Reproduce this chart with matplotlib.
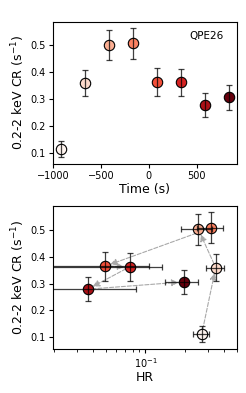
import matplotlib
matplotlib.use('Agg')
import matplotlib.pyplot as plt
import numpy as np

# light curve of QPE26
time = np.array([-918, -668, -418, -168, 82, 332, 582, 832])
rate = np.array([0.114, 0.359, 0.501, 0.507, 0.364, 0.362, 0.279, 0.306])
rate_err = np.array([0.030, 0.049, 0.057, 0.057, 0.053, 0.051, 0.045, 0.046])

# hardness ratio
hr = np.array([0.270, 0.345, 0.254, 0.320, 0.049, 0.0757, 0.0362, 0.197])
hr_err = np.array([0.037, 0.055, 0.067, 0.070, 0.058, 0.057, 0.049, 0.055])

label = 'QPE26'

cmap = plt.get_cmap('Reds')
norm = plt.Normalize(time.min(), time.max())
colors = cmap(norm(time))

fig = plt.figure(figsize=(2.46, 3.93), dpi=100)
ax1 = fig.add_axes([0.2155, 0.582, 0.747, 0.363])
ax2 = fig.add_axes([0.2155, 0.112, 0.747, 0.364])

# top: count rate vs time
for i in range(len(time)):
    ax1.plot(time[i], rate[i], 'o', ms=7.5, mfc=colors[i], mec='k', mew=0.8, zorder=2)
ax1.errorbar(time, rate, yerr=rate_err, fmt='none', ecolor='k', elinewidth=0.9,
             capsize=2.5, capthick=0.9, alpha=0.75, zorder=3)
ax1.set_xlim(-1000, 917)
ax1.set_ylim(0.057, 0.588)
ax1.set_xlabel('Time (s)', fontsize=9, labelpad=1)
ax1.set_ylabel('0.2-2 keV CR (s$^{-1}$)', fontsize=9, labelpad=3)
ax1.text(0.93, 0.9, label, transform=ax1.transAxes, ha='right', va='center', fontsize=7.5)
ax1.tick_params(labelsize=7, length=3, pad=2)

# bottom: count rate vs HR
ax2.set_xscale('log')
for i in range(len(time) - 1):
    ax2.annotate('', xy=(hr[i + 1], rate[i + 1]), xytext=(hr[i], rate[i]),
                 arrowprops=dict(arrowstyle='-|>', color='darkgray', ls='--', lw=0.8,
                                 shrinkA=3, shrinkB=4, mutation_scale=10),
                 zorder=1)
for i in range(len(time)):
    ax2.plot(hr[i], rate[i], 'o', ms=7.5, mfc=colors[i], mec='k', mew=0.8, zorder=2)
ax2.errorbar(hr, rate, xerr=hr_err, yerr=rate_err, fmt='none', ecolor='k', elinewidth=0.9,
             capsize=2.5, capthick=0.9, alpha=0.75, zorder=3)
ax2.set_xlim(0.0196, 0.5)
ax2.set_ylim(0.057, 0.588)
ax2.set_xlabel('HR', fontsize=9, labelpad=1)
ax2.set_ylabel('0.2-2 keV CR (s$^{-1}$)', fontsize=9, labelpad=3)
ax2.tick_params(labelsize=7, length=3, pad=2)
ax2.tick_params(which='minor', length=1.8)

fig.savefig('out.png', dpi=100)
